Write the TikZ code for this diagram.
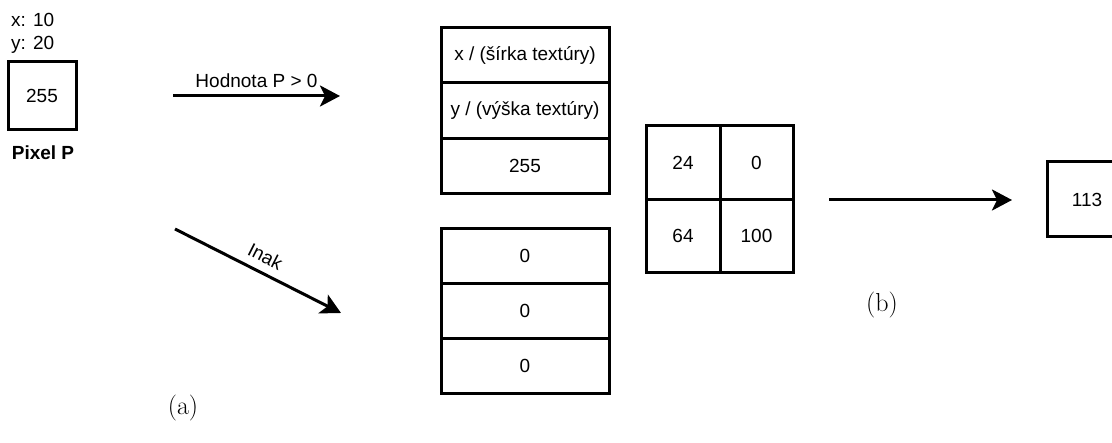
\documentclass[tikz,border=0pt]{standalone}
\usepackage{fontspec}
\setmainfont{Liberation Sans}
\newfontfamily\lmfont{Latin Modern Roman}
\usetikzlibrary{arrows.meta}
\begin{document}
\begin{tikzpicture}[x=1pt,y=-1pt,
  every node/.style={font=\fontsize{19}{22}\selectfont, inner sep=0pt},
  cell/.style={draw, line width=3pt, minimum width=#1, anchor=center},
  arr/.style={line width=3pt, -{Stealth[length=20pt,width=21pt,inset=5pt]}},
  captext/.style={font=\lmfont\fontsize{26}{30}\selectfont}]
\clip (0,0) rectangle (1112,443);
\useasboundingbox (0,0) rectangle (1112,443);
% pixel P
\node[anchor=base west] (xl) at (11,27) {x: 10};
\node[anchor=base west] (yl) at (11,50) {y: 20};
\node[cell=68pt, minimum height=68pt] (pix) at (42,96) {255};
\node[anchor=base, font=\bfseries\fontsize{19}{22}\selectfont] (pp) at (43,160) {Pixel P};
% arrows
\coordinate (a1s) at (173,96);
\coordinate (a1e) at (340,96);
\draw[arr] (a1s) -- node[midway, above=7pt] (lab1) {Hodnota P > 0} (a1e);
\coordinate (a2s) at (175,229);
\coordinate (a2e) at (341,313);
\draw[arr] (a2s) -- node[midway, sloped, above=8pt] (lab2) {Inak} (a2e);
% top stack
\node[cell=168pt, minimum height=55.5pt] (t1) at (525,55) {x / (šírka textúry)};
\node[cell=168pt, minimum height=55.5pt] (t2) at (525,110.5) {y / (výška textúry)};
\node[cell=168pt, minimum height=55.5pt] (t3) at (525,166) {255};
% bottom stack
\node[cell=168pt, minimum height=55pt] (b1) at (525,256) {0};
\node[cell=168pt, minimum height=55pt] (b2) at (525,311) {0};
\node[cell=168pt, minimum height=55pt] (b3) at (525,366) {0};
% grid
\node[cell=74pt, minimum height=73.5pt] (g11) at (683,162.5) {24};
\node[cell=73pt, minimum height=73.5pt] (g12) at (756.5,162.5) {0};
\node[cell=74pt, minimum height=73.5pt] (g21) at (683,236) {64};
\node[cell=73pt, minimum height=73.5pt] (g22) at (756.5,236) {100};
% arrow 3
\coordinate (a3s) at (829,200);
\coordinate (a3e) at (1012,200);
\draw[arr] (a3s) -- (a3e);
\node[cell=80pt, minimum height=75pt] (res) at (1087,199.5) {113};
% captions
\node[captext] (capa) at (183,408) {(a)};
\node[captext] (capb) at (882,305) {(b)};
\end{tikzpicture}
\end{document}
